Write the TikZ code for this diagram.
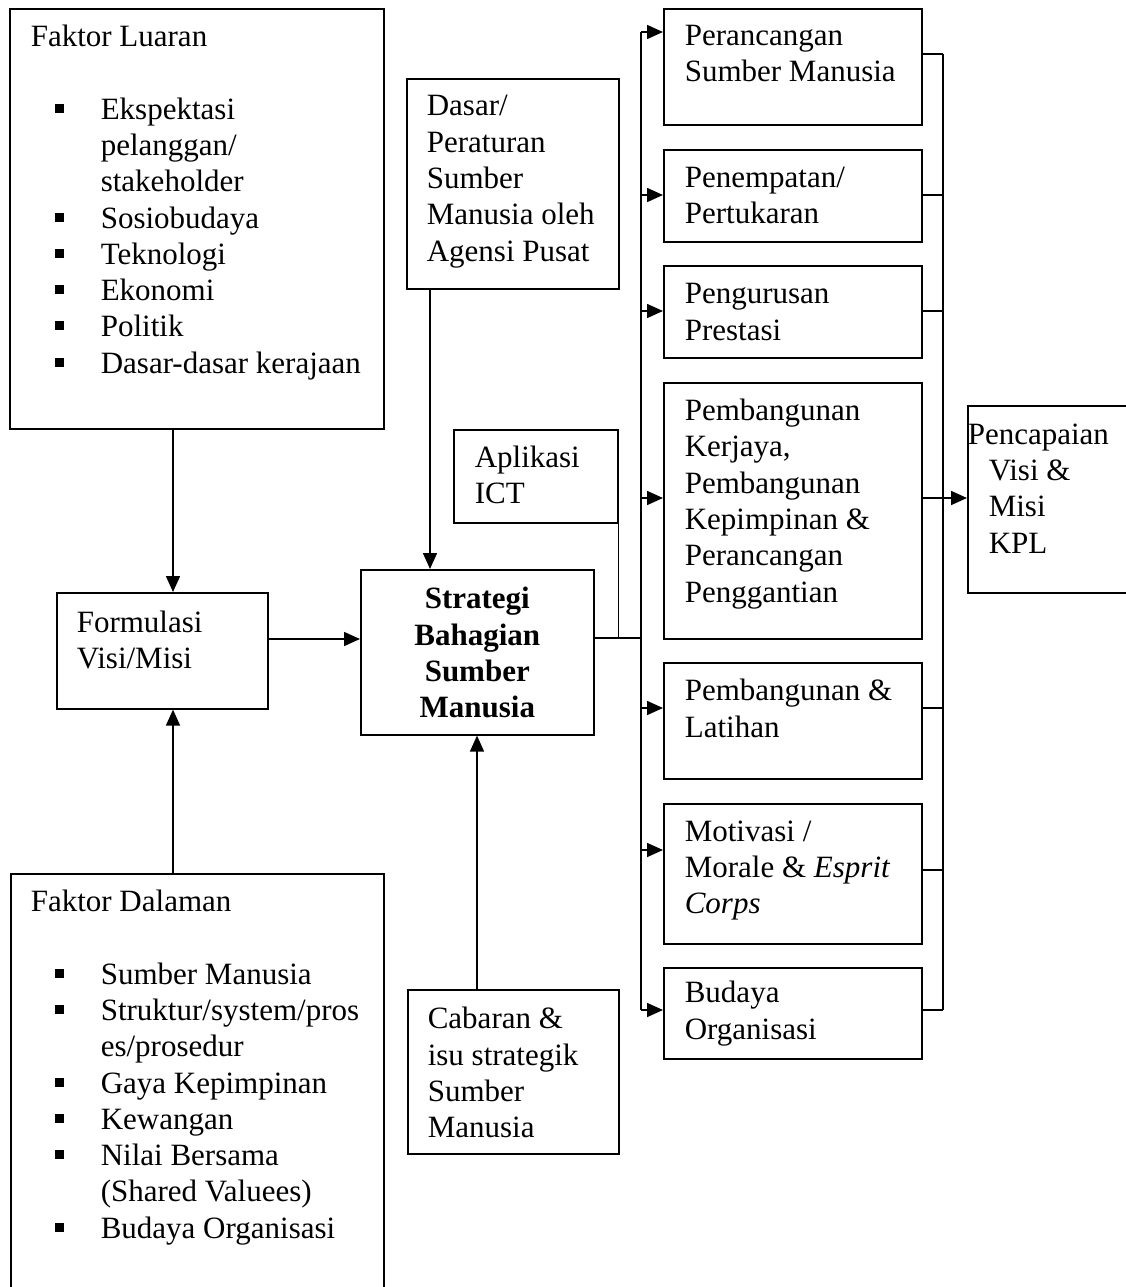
\documentclass[tikz,border=0pt]{standalone}
\usepackage{fontspec}
\setmainfont{Liberation Serif}
\usetikzlibrary{arrows.meta}
\tikzstyle{boxes} = [rectangle, draw=black, line width=1.6pt, anchor=north west, inner sep=0pt]
\tikzstyle{arrow} = [line width=1.6pt, -{Triangle[length=16pt,width=14pt]}]
\tikzstyle{line} = [line width=1.6pt]
% box text: width, height, left pad, first baseline, text
\newcommand{\boxtext}[5]{\parbox[c][#2pt][t]{#1pt}{\raggedright\leftskip=#3pt\relax\rule{0pt}{#4pt}#5}}
\newcommand{\itm}{\makebox[70pt][l]{\hspace*{24pt}\rule[6.5pt]{9pt}{9pt}}}
\newcommand{\cnt}{\hspace*{70pt}}

\begin{document}
\begin{tikzpicture}[x=1pt, y=-1pt, font=\fontsize{31}{36.3}\selectfont]
        \useasboundingbox (0,0) rectangle (1126,1287);

        % left column
        \node[boxes] (luaran) at (9,8) {\boxtext{374}{420}{21}{37.7}{Faktor Luaran\\[36.3pt]
            \itm Ekspektasi\\ \cnt pelanggan/\\ \cnt stakeholder\\ \itm Sosiobudaya\\
            \itm Teknologi\\ \itm Ekonomi\\ \itm Politik\\ \itm Dasar-dasar kerajaan}};
        \node[boxes] (formulasi) at (56,592) {\boxtext{211}{116}{20}{39.7}{Formulasi\\ Visi/Misi}};
        \node[boxes] (dalaman) at (10,873) {\boxtext{373}{420}{20}{37.7}{Faktor Dalaman\\[36.3pt]
            \itm Sumber Manusia\\ \itm Struktur/system/pros\\ \cnt es/prosedur\\
            \itm Gaya Kepimpinan\\ \itm Kewangan\\ \itm Nilai Bersama\\ \cnt (Shared Valuees)\\
            \itm Budaya Organisasi}};

        % middle column
        \node[boxes] (dasar) at (406,78) {\boxtext{212}{210}{20}{37}{Dasar/\\ Peraturan\\ Sumber\\ Manusia oleh\\ Agensi Pusat}};
        \node[boxes] (aplikasi) at (453,429) {\boxtext{164}{93}{21}{37.7}{Aplikasi\\ ICT}};
        \node[boxes] (strategi) at (360,569) {\parbox[c][165pt][t]{233pt}{\centering\bfseries\rule{0pt}{39pt}Strategi\\ Bahagian\\ Sumber\\ Manusia}};
        \node[boxes] (cabaran) at (407,989) {\boxtext{211}{164}{20}{39}{Cabaran \&\\ isu strategik\\ Sumber\\ Manusia}};

        % right column
        \node[boxes] (perancangan) at (663,8) {\boxtext{258}{116}{21}{36.7}{Perancangan\\ Sumber Manusia}};
        \node[boxes] (penempatan) at (663,149) {\boxtext{258}{92}{21}{37.7}{Penempatan/\\ Pertukaran}};
        \node[boxes] (pengurusan) at (663,265) {\boxtext{258}{92}{21}{38}{Pengurusan\\ Prestasi}};
        \node[boxes] (kerjaya) at (663,382) {\boxtext{258}{256}{21}{37.7}{Pembangunan\\ Kerjaya,\\ Pembangunan\\ Kepimpinan \&\\ Perancangan\\ Penggantian}};
        \node[boxes] (latihan) at (663,662) {\boxtext{258}{116}{21}{38}{Pembangunan \&\\ Latihan}};
        \node[boxes] (motivasi) at (663,803) {\boxtext{258}{140}{21}{37.3}{Motivasi /\\ Morale \& \textit{Esprit}\\ \textit{Corps}}};
        \node[boxes] (budaya) at (663,967) {\boxtext{258}{91}{21}{35}{Budaya\\ Organisasi}};
        \node[boxes] (pencapaian) at (967,405) {\boxtext{170}{187}{21}{38.3}{\hspace*{-21pt}Pencapaian\\ Visi \&\\ Misi\\ KPL}};

        % guide coordinates
        \coordinate (fx) at (173,0);
        \coordinate (dx) at (430,0);
        \coordinate (cx) at (477,0);
        \coordinate (busl) at (641,0);
        \coordinate (busr) at (943,0);

        \draw[arrow] (fx |- luaran.south) -- (fx |- formulasi.north);
        \draw[arrow] (fx |- dalaman.north) -- (fx |- formulasi.south);
        \draw[arrow] (formulasi.east |- 0,639) -- (strategi.west |- 0,639);
        \draw[arrow] (dx |- dasar.south) -- (dx |- strategi.north);
        \draw[arrow] (cx |- cabaran.north) -- (cx |- strategi.south);

        \draw[line] (strategi.east |- 0,638) -- (busl |- 0,638);
        \draw[line] (aplikasi.south east) -- (aplikasi.south east |- 0,638);
        \draw[line] (busl |- 0,32) -- (busl |- 0,1010);
        \draw[line] (busr |- 0,54) -- (busr |- 0,1010);

        \foreach \n/\a/\b in {perancangan/32/54, penempatan/195/195, pengurusan/311/311,
            latihan/708/708, motivasi/850/870, budaya/1010/1010} {
            \draw[arrow] (busl |- 0,\a) -- (\n.west |- 0,\a);
            \draw[line] (\n.east |- 0,\b) -- (busr |- 0,\b);
        }
        \draw[arrow] (busl |- 0,498) -- (kerjaya.west |- 0,498);
        \draw[arrow] (kerjaya.east |- 0,498) -- (pencapaian.west |- 0,498);

\end{tikzpicture}
\end{document}
